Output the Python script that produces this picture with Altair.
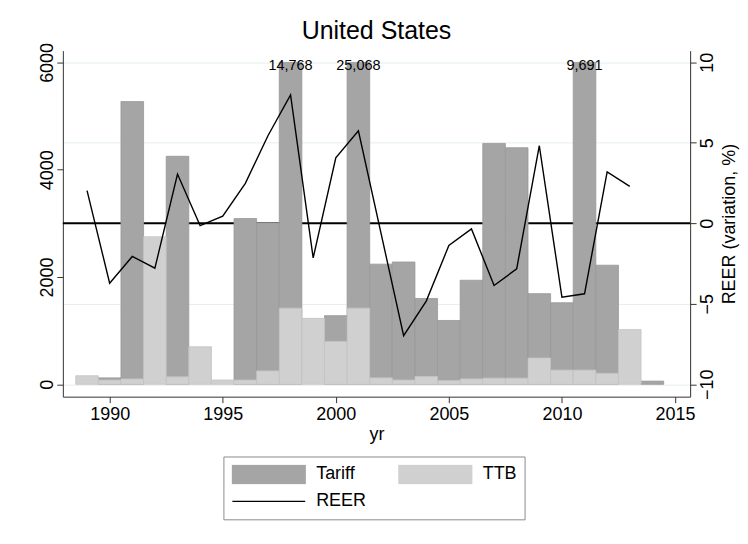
import altair as alt
import pandas as pd

# ---------------- data ----------------
years = list(range(1989, 2015))
tariff = [None, 120, 5270, None, 4250, None, None, 3090, 3010, 14768, None, 1280,
          25068, 2240, 2280, 1600, 1190, 1940, 4490, 4410, 1690, 1520, 9691, 2220,
          None, 60]
ttb = [160, 80, 100, 2750, 140, 700, 80, 80, 250, 1420, 1230, 800,
       1420, 120, 80, 145, 70, 100, 115, 115, 490, 265, 265, 205,
       1020, None]
reer = [2.03, -3.72, -2.06, -2.79, 3.06, -0.14, 0.44, 2.48, 5.44, 7.98, -2.15, 4.07,
        5.75, None, -6.98, -4.83, -1.38, -0.35, -3.86, -2.83, 4.82, -4.59, -4.38, 3.2,
        2.29, None]
reer_reference = [0]

series_names = ["Tariff", "TTB", "REER"]
series_colors = ["#a5a5a5", "#d0d0d0", "#000000"]
left_ticks = [0, 2000, 4000, 6000]
right_ticks = [-10, -5, 0, 5, 10]
year_ticks = [1990, 1995, 2000, 2005, 2010, 2015]
bar_cap = 6000

FONT = "Liberation Sans"

rows = []
for y, t in zip(years, tariff):
    if t is not None:
        rows.append({"yr": y, "series": "Tariff", "value": t})
for y, v in zip(years, ttb):
    if v is not None:
        rows.append({"yr": y, "series": "TTB", "value": v})
bars_df = pd.DataFrame(rows)
reer_df = pd.DataFrame({"yr": years, "REER": reer})
reer_df = reer_df[reer_df["REER"].notna()].copy()
reer_df["series"] = "REER"
ref_df = pd.DataFrame({"REER": reer_reference})

# ---------------- scales / axes ----------------
x_scale = alt.Scale(domain=[1987.93, 2015.67], nice=False, zero=False)
left_scale = alt.Scale(domain=[-230, 6220], nice=False, zero=False)
right_scale = alt.Scale(domain=[-10.77, 10.73], nice=False, zero=False)
color_scale = alt.Scale(domain=series_names, range=series_colors)

x_axis = alt.Axis(values=year_ticks, format="d", title="yr", grid=False,
                  labelPadding=3, titlePadding=2, tickSize=6)
left_axis = alt.Axis(orient="left", values=left_ticks, format="d", title=None,
                     grid=False, labelAngle=270, labelAlign="center",
                     labelBaseline="alphabetic", labelPadding=4, tickSize=6)
right_axis = alt.Axis(orient="right", values=right_ticks, format="d",
                      title="REER (variation, %)", grid=True, gridColor="#e6eef0",
                      labelAngle=270, labelAlign="center", labelBaseline="top",
                      labelPadding=2, tickSize=6, titleAngle=270,
                      titleBaseline="top", titlePadding=4)

legend_def = alt.Legend(
    title=None, orient="none", legendX=161, legendY=407, columns=2,
    direction="horizontal",
    columnPadding=31, rowPadding=7, padding=8, strokeColor="#8c8c8c",
    fillColor="white", labelFont=FONT, labelFontSize=18, labelColor="black",
    labelOffset=10, labelBaseline="middle", clipHeight=20,
    symbolSize=5329, symbolStrokeWidth=1.3,
    symbolType={"expr": "datum.value == 'REER' ? 'stroke' : 'M-1,-0.25H1V0.25H-1Z'"},
    symbolStrokeColor={"expr": "datum.value == 'REER' ? '#000000' : (datum.value == 'Tariff' ? '#989898' : '#c4c4c4')"},
)

# ---------------- layers ----------------
base_bars = alt.Chart(bars_df).transform_calculate(
    x0="datum.yr - 0.5",
    x1="datum.yr + 0.5",
    shown=f"min(datum.value, {bar_cap})",
    label="format(datum.value, ',')",
)

def bar_layer(name, stroke):
    return base_bars.transform_filter(f"datum.series == '{name}'").mark_bar(
        stroke=stroke, strokeWidth=0.8
    ).encode(
        x=alt.X("x0:Q", scale=x_scale, axis=x_axis),
        x2="x1:Q",
        y=alt.Y("shown:Q", scale=left_scale, axis=left_axis, stack=None),
        y2=alt.Y2(datum=0),
        color=alt.Color("series:N", scale=color_scale, legend=legend_def),
    )

tariff_bars = bar_layer("Tariff", "#989898")
ttb_bars = bar_layer("TTB", "#c4c4c4")

cap_labels = base_bars.transform_filter(
    f"datum.series == 'Tariff' && datum.value > {bar_cap}"
).mark_text(font=FONT, fontSize=14.5, baseline="alphabetic", dy=8, color="black").encode(
    x=alt.X("yr:Q", scale=x_scale, axis=x_axis),
    y=alt.Y("shown:Q", scale=left_scale, axis=left_axis),
    text="label:N",
)

bars_layer = alt.layer(tariff_bars, ttb_bars, cap_labels)

zero_rule = alt.Chart(ref_df).mark_rule(color="black", strokeWidth=2).encode(
    y=alt.Y("REER:Q", scale=right_scale, axis=None)
)

reer_line = alt.Chart(reer_df).mark_line(strokeWidth=1.4).encode(
    x=alt.X("yr:Q", scale=x_scale, axis=x_axis),
    y=alt.Y("REER:Q", scale=right_scale, axis=right_axis),
    color=alt.Color("series:N", scale=color_scale, legend=None),
)

chart = alt.layer(zero_rule, bars_layer, reer_line).resolve_scale(
    y="independent"
).properties(
    width=629,
    height=347,
    autosize=alt.AutoSizeParams(type="none"),
    padding={"left": 55, "top": 42, "right": 50, "bottom": 140},
    title=alt.TitleParams("United States", font=FONT, fontSize=25, fontWeight="normal",
                          color="black", anchor="middle", offset=5, dy=27,
                          baseline="alphabetic", frame="group"),
).configure_view(stroke=None).configure_axis(
    labelFont=FONT, titleFont=FONT, labelFontSize=18, titleFontSize=18,
    labelColor="black", titleColor="black", tickColor="#333333",
    domainColor="#333333", titleFontWeight="normal",
)

chart.save("out.html", embed_options={"renderer": "svg", "actions": False})
